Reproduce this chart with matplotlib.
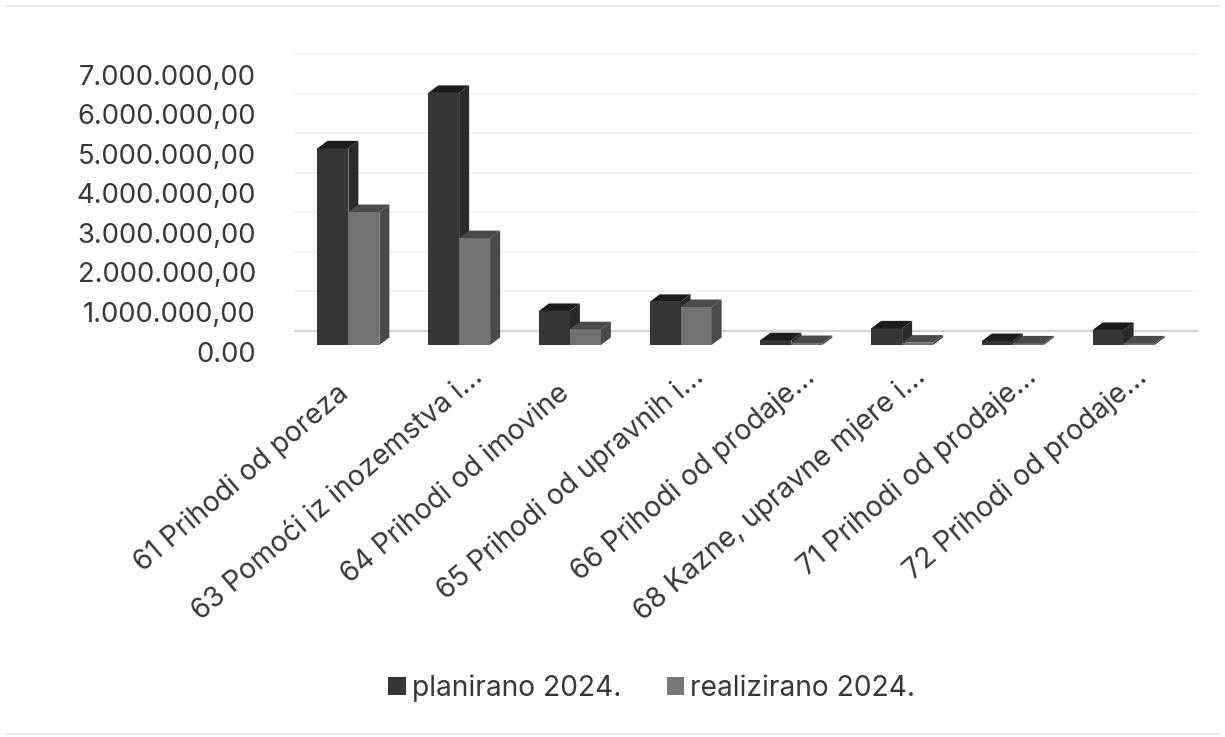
import matplotlib
matplotlib.use("Agg")
import matplotlib.pyplot as plt
from matplotlib.patches import Polygon
from matplotlib.lines import Line2D

categories = ["61 Prihodi od poreza", "63 Pomoći iz inozemstva i...", "64 Prihodi od imovine",
              "65 Prihodi od upravnih i...", "66 Prihodi od prodaje...", "68 Kazne, upravne mjere i...",
              "71 Prihodi od prodaje...", "72 Prihodi od prodaje..."]
planirano = [4970000, 6370000, 860000, 1090000, 120000, 420000, 100000, 380000]
realizirano = [3360000, 2700000, 400000, 960000, 50000, 60000, 40000, 40000]
yticks = [0, 1000000, 2000000, 3000000, 4000000, 5000000, 6000000, 7000000]
yticklabels = ["0.00", "1.000.000,00", "2.000.000,00", "3.000.000,00", "4.000.000,00",
               "5.000.000,00", "6.000.000,00", "7.000.000,00"]
series_names = ["planirano 2024.", "realizirano 2024."]

W, H = 1225, 737
FONT = "Inter"
TXT = "#383838"
fig = plt.figure(figsize=(W / 100, H / 100), dpi=100, facecolor="white")
L, R, T, B = 293, 1179, 68, 345
ax = fig.add_axes([L / W, 1 - B / H, (R - L) / W, (B - T) / H])
ax.set_xlim(-0.5, 7.5)
ax.set_ylim(0, 7000000)
ax.set_facecolor("none")
for s in ax.spines.values():
    s.set_visible(False)
ax.set_xticks([])
ax.set_yticks([])

px_x = 8 / (R - L)
px_y = 7000000 / (B - T)

# faint scan edges of the page
for yy in (6, 734):
    fig.add_artist(Line2D([0.005, 0.995], [1 - yy / H, 1 - yy / H], color="#ececec", lw=1.5))

# back-wall gridlines
for v in yticks:
    y = v + 14 * px_y
    ax.plot([-0.5 + 2 * px_x, 7.5 + 18 * px_x], [y, y], clip_on=False, zorder=1,
            color="#d4d4d4" if v == 0 else "#f4f4f4", lw=1.6 if v == 0 else 1.4)

bw = 31 / ((R - L) / 8)
dx, dy = 10 * px_x, 7.5 * px_y


def bar3d(x, v, front, top, side, z):
    ax.bar([x], [v], width=bw, align="edge", color=front, lw=0, zorder=z)
    ax.add_patch(Polygon([(x, v), (x + dx, v + dy), (x + bw + dx, v + dy), (x + bw, v)],
                         closed=True, fc=top, ec="none", zorder=z, clip_on=False))
    ax.add_patch(Polygon([(x + bw, 0), (x + bw + dx, dy), (x + bw + dx, v + dy), (x + bw, v)],
                         closed=True, fc=side, ec="none", zorder=z, clip_on=False))


for i, (p, r) in enumerate(zip(planirano, realizirano)):
    bar3d(i - bw, p, "#363636", "#1c1c1c", "#2a2a2a", 3 + i)
    bar3d(i, r, "#727272", "#4a4a4a", "#4a4a4a", 3.5 + i)

for v, t in zip(yticks, yticklabels):
    ax.annotate(t, (0, v), xycoords=("axes fraction", "data"), xytext=(-37 * 0.72, -9.5 * 0.72),
                textcoords="offset points", ha="right", va="center",
                family=FONT, fontsize=19.7, color=TXT, annotation_clip=False)

for i, c in enumerate(categories):
    # truncated labels sit further along their own baseline, as in the original
    shift = (17, 12) if c.endswith("...") else (0, 0)
    ax.annotate(c, (i, 0), xytext=(-9 + shift[0], -25 + shift[1]), textcoords="offset points",
                rotation=40.5, rotation_mode="anchor", ha="right", va="top",
                family=FONT, fontsize=20.3, color=TXT, annotation_clip=False)

# legend
handles = [plt.Rectangle((0, 0), 1, 1, fc="#363636"), plt.Rectangle((0, 0), 1, 1, fc="#787878")]
fig.legend(handles, series_names, loc="center", bbox_to_anchor=(652 / W, 1 - 688.5 / H), ncol=2,
           frameon=False, prop={"family": FONT, "size": 20.3}, labelcolor=TXT,
           handlelength=0.62, handleheight=0.62, handletextpad=0.22, columnspacing=1.6,
           borderpad=0, borderaxespad=0)

fig.savefig("out.png", dpi=100, facecolor="white")
